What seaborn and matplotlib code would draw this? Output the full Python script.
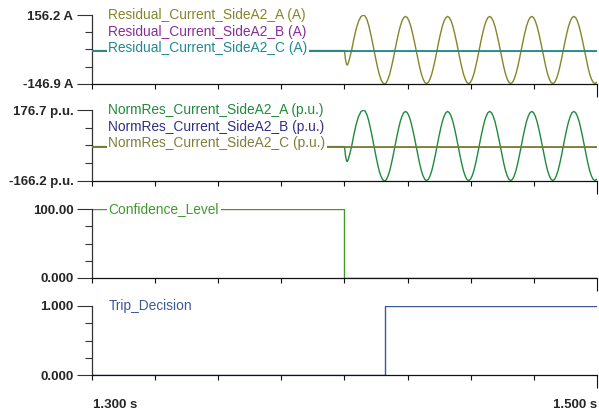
import numpy as np
import pandas as pd
import matplotlib
matplotlib.use("Agg")
import matplotlib.pyplot as plt
import seaborn as sns

sns.set_style("ticks")
plt.rcParams['font.family'] = ['Liberation Sans', 'DejaVu Sans']

# ---------------- data ----------------
t_start, t_end = 1.300, 1.500
x_ticks = [1.300, 1.325, 1.350, 1.375, 1.400, 1.425, 1.450, 1.475, 1.500]
x_labels = ["1.300 s", "1.500 s"]

# transient right after fault inception
t_trans = [1.3000, 1.4000, 1.4004, 1.4008, 1.4011, 1.4015, 1.4020, 1.4028,
           1.4036, 1.4045, 1.4055, 1.4065]
res_a_trans = [0, 0, -40, -60, -64, -55, -35, 0, 45, 90, 127, 149]
norm_a_trans = [0, 0, -45.2, -67.9, -72.4, -62.2, -39.6, 0, 50.9, 101.8, 143.6, 168.5]

# steady 60 Hz part sampled every 1/24 cycle starting at first peak (1.4075 s)
wave_t0 = 1.4075
wave_dt = 1.0 / 60.0 / 24.0
res_a_wave = [
    156, 151, 136, 111, 78, 42, 3, -36, -72, -104, -127, -142, -147, -142, -126, -103, -71, -36, 3, 41, 76, 107, 130, 145,
    150, 145, 130, 107, 76, 41, 3, -36, -71, -102, -125, -140, -145, -140, -125, -102, -71, -36, 3, 41, 76, 107, 130, 145,
    150, 145, 130, 107, 76, 41, 2, -36, -71, -102, -125, -140, -145, -140, -125, -102, -71, -36, 3, 41, 76, 107, 130, 145,
    150, 145, 130, 107, 76, 41, 3, -36, -71, -102, -125, -140, -145, -140, -125, -102, -71, -36, 3, 41, 76, 107, 130, 145,
    150, 145, 130, 107, 76, 41, 3, -36, -71, -102, -125, -140, -145, -140, -125, -102, -71, -36, 3, 41, 76, 107, 130, 145,
    150, 145, 130, 107, 76, 41, 3, -36, -71, -102, -125, -140, -145, -140,
]
norm_a_wave = [
    176.4, 170.8, 153.8, 125.5, 88.2, 47.5, 3.4, -40.7, -81.4, -117.6, -143.6, -160.6, -166.2, -160.6, -142.5, -116.5, -80.3, -40.7, 3.4, 46.4, 86.0, 121.0, 147.0, 164.0,
    169.7, 164.0, 147.0, 121.0, 86.0, 46.4, 3.4, -40.7, -80.3, -115.4, -141.4, -158.3, -164.0, -158.3, -141.4, -115.4, -80.3, -40.7, 3.4, 46.4, 86.0, 121.0, 147.0, 164.0,
    169.7, 164.0, 147.0, 121.0, 86.0, 46.4, 2.3, -40.7, -80.3, -115.4, -141.4, -158.3, -164.0, -158.3, -141.4, -115.4, -80.3, -40.7, 3.4, 46.4, 86.0, 121.0, 147.0, 164.0,
    169.7, 164.0, 147.0, 121.0, 86.0, 46.4, 3.4, -40.7, -80.3, -115.4, -141.4, -158.3, -164.0, -158.3, -141.4, -115.4, -80.3, -40.7, 3.4, 46.4, 86.0, 121.0, 147.0, 164.0,
    169.7, 164.0, 147.0, 121.0, 86.0, 46.4, 3.4, -40.7, -80.3, -115.4, -141.4, -158.3, -164.0, -158.3, -141.4, -115.4, -80.3, -40.7, 3.4, 46.4, 86.0, 121.0, 147.0, 164.0,
    169.7, 164.0, 147.0, 121.0, 86.0, 46.4, 3.4, -40.7, -80.3, -115.4, -141.4, -158.3, -164.0, -158.3,
]
flat_t = [1.300, 1.500]
res_b = [0, 0]
res_c = [0, 0]
norm_b = [0, 0]
norm_c = [0, 0]

conf_t = [1.300, 1.4000, 1.500]
conf_v = [100, 0, 0]
trip_t = [1.300, 1.4162, 1.500]
trip_v = [0, 1, 1]

res_names = ["Residual_Current_SideA2_A (A)", "Residual_Current_SideA2_B (A)", "Residual_Current_SideA2_C (A)"]
norm_names = ["NormRes_Current_SideA2_A (p.u.)", "NormRes_Current_SideA2_B (p.u.)", "NormRes_Current_SideA2_C (p.u.)"]
res_colors = ["#85852a", "#8c2a9c", "#1f8a90"]
norm_colors = ["#1f8a3c", "#2e2e86", "#7e7e3a"]
conf_color = "#3f9a2c"
trip_color = "#3d5898"

res_ylim = (-146.9, 156.2)
norm_ylim = (-166.2, 176.7)
res_yt = ["-146.9 A", "156.2 A"]
norm_yt = ["-166.2 p.u.", "176.7 p.u."]
conf_yt = ["0.000", "100.00"]
trip_yt = ["0.000", "1.000"]

# ---------------- build frames ----------------
wave_t = list(wave_t0 + np.arange(len(res_a_wave)) * wave_dt)
res_series = [
    pd.DataFrame({"t": t_trans + wave_t, "v": res_a_trans + res_a_wave}),
    pd.DataFrame({"t": flat_t, "v": res_b}),
    pd.DataFrame({"t": flat_t, "v": res_c}),
]
norm_series = [
    pd.DataFrame({"t": t_trans + wave_t, "v": norm_a_trans + norm_a_wave}),
    pd.DataFrame({"t": flat_t, "v": norm_b}),
    pd.DataFrame({"t": flat_t, "v": norm_c}),
]
conf_df = pd.DataFrame({"t": conf_t, "v": conf_v})
trip_df = pd.DataFrame({"t": trip_t, "v": trip_v})

# ---------------- figure ----------------
W, H = 599, 412
fig = plt.figure(figsize=(W / 100, H / 100), dpi=100)

def px_axes(top, bottom, left=92, right=597):
    return fig.add_axes([left / W, 1 - bottom / H, (right - left) / W, (bottom - top) / H])

ax1 = px_axes(15, 84)
ax2 = px_axes(110, 181)
ax3 = px_axes(209, 278)
ax4 = px_axes(306, 375)

series_lw = [1.0, 0.5, 1.3]
for i, (df, c) in enumerate(zip(res_series, res_colors)):
    sns.lineplot(data=df, x="t", y="v", color=c, estimator=None, sort=False,
                 lw=series_lw[i], ax=ax1, zorder=2 + i)
for i, (df, c) in enumerate(zip(norm_series, norm_colors)):
    sns.lineplot(data=df, x="t", y="v", color=c, estimator=None, sort=False,
                 lw=series_lw[i], ax=ax2, zorder=2 + i)
sns.lineplot(data=conf_df, x="t", y="v", color=conf_color, estimator=None, sort=False,
             drawstyle="steps-post", lw=1.0, ax=ax3)
sns.lineplot(data=trip_df, x="t", y="v", color=trip_color, estimator=None, sort=False,
             drawstyle="steps-post", lw=1.0, ax=ax4)

def style_axis(ax, ylim, ylabels):
    ax.set_xlim(t_start, t_end)
    ax.set_ylim(*ylim)
    ax.set_xlabel("")
    ax.set_ylabel("")
    for s in ["top", "right"]:
        ax.spines[s].set_visible(False)
    ax.spines["left"].set_color("#333333")
    ax.spines["bottom"].set_color("#111111")
    ax.spines["left"].set_linewidth(0.9)
    ax.spines["bottom"].set_linewidth(0.9)
    ax.set_xticks(x_ticks)
    ax.set_xticklabels([])
    ax.tick_params(axis="x", which="major", bottom=True, direction="out", length=3.8,
                   width=0.8, color="#111111")
    lo, hi = ylim
    ax.set_yticks([lo, hi])
    ax.set_yticklabels(ylabels, fontsize=9.5, fontweight="bold")
    ax.set_yticks(list(np.linspace(lo, hi, 5)[1:-1]), minor=True)
    ax.tick_params(axis="y", which="major", left=True, direction="out", length=10.8,
                   width=0.8, color="#333333", pad=2.6)
    ax.tick_params(axis="y", which="minor", left=True, direction="out", length=5.0,
                   width=0.8, color="#333333")
    last = ax.xaxis.get_major_ticks()[-1]
    last.tick1line.set_markersize(9)
    last.tick1line.set_color("#777777")
    ax.set_facecolor("white")

style_axis(ax1, res_ylim, res_yt)
style_axis(ax2, norm_ylim, norm_yt)
style_axis(ax3, (0, 100), conf_yt)
style_axis(ax4, (0, 1), trip_yt)

def label(ax, text, color, k):
    ax.annotate(text, xy=(0, 1), xycoords="axes fraction",
                xytext=(16.5, -16.6 * k), textcoords="offset pixels",
                ha="left", va="center", fontsize=9.9, color=color, zorder=10,
                bbox=dict(boxstyle="square,pad=0.12", fc="white", ec="none"))

for k, (n, c) in enumerate(zip(res_names, res_colors)):
    label(ax1, n, c, k)
for k, (n, c) in enumerate(zip(norm_names, norm_colors)):
    label(ax2, n, c, k)
label(ax3, "Confidence_Level", conf_color, 0)
label(ax4, "Trip_Decision", trip_color, 0)

fig.text(93 / W, 1 - 405 / H, x_labels[0], ha="left", va="center",
         fontsize=9.5, fontweight="bold")
fig.text(597 / W, 1 - 405 / H, x_labels[1], ha="right", va="center",
         fontsize=9.5, fontweight="bold")

fig.savefig("out.png", dpi=100, facecolor="white")
